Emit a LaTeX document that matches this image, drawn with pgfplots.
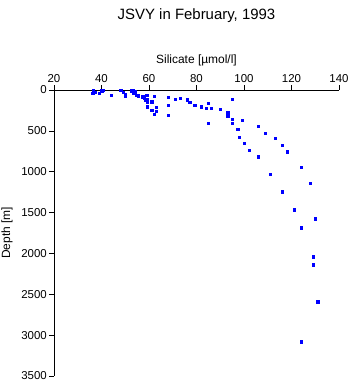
\documentclass[border=0pt]{standalone}
\usepackage{pgfplots}
\pgfplotsset{compat=1.18}
\usepackage{fontspec}
\setmainfont{Liberation Sans}
\begin{document}
\begin{tikzpicture}
\useasboundingbox (-54bp,-8bp) rectangle (297bp,376bp);
\begin{axis}[
  at={(0,0)}, anchor=south west,
  scale only axis, width=285bp, height=286bp,
  xmin=20, xmax=140, ymin=0, ymax=3500,
  y dir=reverse,
  axis x line*=top, axis y line*=left,
  xtick={20,40,...,140}, ytick={0,500,...,3500},
  tick align=outside, major tick length=5bp,
  tick style={black, line width=0.7bp},
  axis line style={black, line width=0.7bp},
  /pgf/number format/assume math mode=true,
  /pgf/number format/set thousands separator={},
  tick label style={font=\fontsize{11.5}{13}\selectfont},
  xticklabel style={inner sep=2.5bp},
  yticklabel style={inner sep=2bp},
  xlabel={Silicate [µmol/l]},
  ylabel={Depth [m]},
  label style={font=\fontsize{12}{14}\selectfont},
  x label style={at={(axis description cs:0.5,1)}, anchor=center, yshift=30bp},
  y label style={at={(axis description cs:-0.165,0.5)}, anchor=center, rotate=0},
  title={JSVY in February, 1993},
  title style={at={(axis description cs:0.5,1)}, anchor=center, yshift=68bp, font=\fontsize{15}{17}\selectfont},
  clip=false,
]
\addplot[only marks, mark=square*, mark size=1.25bp, color={rgb,255:red,0;green,0;blue,255}] table {
x y
36.6 0
36.3 41
37.4 25
36.5 15
39.1 41
40.1 8
40.4 0
44.1 61
48.1 0
49.2 25
50.0 49
50.0 74
52.4 0
53.1 8
54.1 20
53.4 41
54.8 61
52.8 15
55.4 69
57.3 82
57.9 94
58.0 100
58.5 120
59.0 61
62.1 78
59.2 110
59.2 143
61.1 143
59.2 204
63.1 212
61.1 249
63.1 257
62.1 298
68.1 90
68.1 184
68.1 310
71.1 114
73.2 102
76.1 118
77.1 147
79.2 188
82.0 204
84.1 225
85.0 159
86.1 225
90.0 237
95.1 114
93.1 274
93.1 298
93.1 323
95.1 359
95.1 408
85.0 408
99.2 372
97.3 482
98.0 576
100.1 653
102.1 739
106.0 817
106.0 441
109.0 527
113.2 592
116.1 678
118.1 756
124.1 947
111.1 1029
127.9 1143
116.1 1242
121.1 1462
130.0 1572
124.1 1683
129.1 2038
129.1 2136
131.0 2593
124.1 3079
};
\end{axis}
\end{tikzpicture}
\end{document}
